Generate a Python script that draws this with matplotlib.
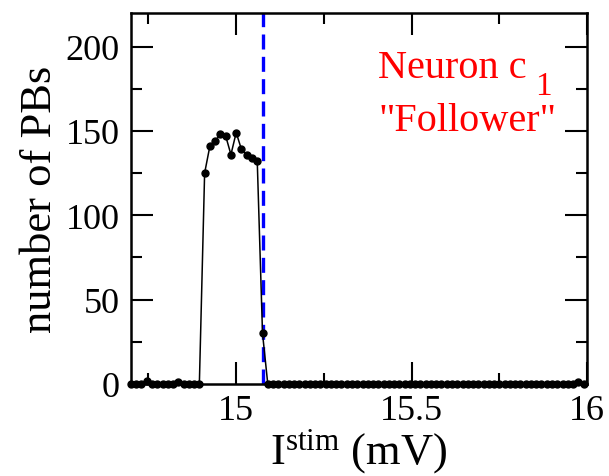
import numpy as np
import matplotlib
matplotlib.use("Agg")
import matplotlib.pyplot as plt
from matplotlib.ticker import MultipleLocator
from matplotlib.transforms import IdentityTransform

plt.rcParams['font.family'] = ['Liberation Serif', 'DejaVu Serif']
plt.rcParams['mathtext.fontset'] = 'custom'
plt.rcParams['mathtext.rm'] = 'Liberation Serif'
plt.rcParams['mathtext.it'] = 'Liberation Serif:italic'

# stimulation current grid (mV), step 0.015 from 14.7
i_stim = np.round(14.7 + 0.015 * np.arange(87), 3)

# number of population bursts at each stimulation value
n_pbs = [
    0, 0, 0, 1.5, 0, 0, 0, 0, 0, 1, 0, 0, 0, 0,
    125, 141, 144, 148, 147, 136, 149, 139, 136, 134, 132, 30,
    0, 0, 0, 0, 0, 0, 0, 0, 0, 0, 0, 0, 0, 0, 0, 0, 0, 0, 0, 0,
    0, 0, 0, 0, 0, 0, 0, 0, 0, 0, 0, 0, 0, 0, 0, 0, 0, 0, 0, 0,
    0, 0, 0, 0, 0, 0, 0, 0, 0, 0, 0, 0, 0, 0, 0, 0, 0, 0, 0, 1, 0,
]

threshold = 15.075

fig = plt.figure(figsize=(6.09, 4.77), dpi=100)
ax = fig.add_axes([0.215, 0.193, 0.749, 0.778])

ax.axvline(threshold, color='#0000ff', lw=2.4, dashes=(4.5, 2.2), zorder=1)
ax.plot(i_stim, n_pbs, color='black', lw=1.1, marker='o', ms=5,
        clip_on=False, zorder=3)

ax.set_xlim(14.7, 16.0)
ax.set_ylim(0, 220)
ax.xaxis.set_minor_locator(MultipleLocator(0.25))
ax.yaxis.set_major_locator(MultipleLocator(50))
ax.yaxis.set_minor_locator(MultipleLocator(25))
ax.set_xticks([15, 15.5, 16])
ax.set_xticklabels(['15', '15.5', '16'])

ax.tick_params(which='both', direction='in', top=True, right=True,
               width=1.5, labelsize=26)
ax.tick_params(axis='y', which='major', pad=8)
ax.tick_params(axis='x', which='major', pad=7)
ax.tick_params(which='major', length=16)
ax.tick_params(which='minor', length=8)
for s in ax.spines.values():
    s.set_linewidth(1.8)

ax.set_xlabel(r'I$^{\mathrm{stim}}$ (mV)', fontsize=32, labelpad=0)
ax.set_ylabel('number of PBs', fontsize=32, labelpad=4)

# annotation: neuron name with subscript, and its role
red = '#ff0000'
name = ax.text(0.542, 0.827, 'Neuron c', transform=ax.transAxes,
               color=red, fontsize=29, ha='left', va='baseline')
ax.text(0.737, 0.685, '"Follower"', transform=ax.transAxes,
        color=red, fontsize=29, ha='center', va='baseline')

fig.canvas.draw()
bb = name.get_window_extent()
base_y = ax.transAxes.transform((0, 0.827))[1]
ax.text(bb.x1 + 8, base_y - 17, '1', transform=IdentityTransform(),
        color=red, fontsize=24, ha='left', va='baseline')

fig.savefig('out.png', dpi=100)
